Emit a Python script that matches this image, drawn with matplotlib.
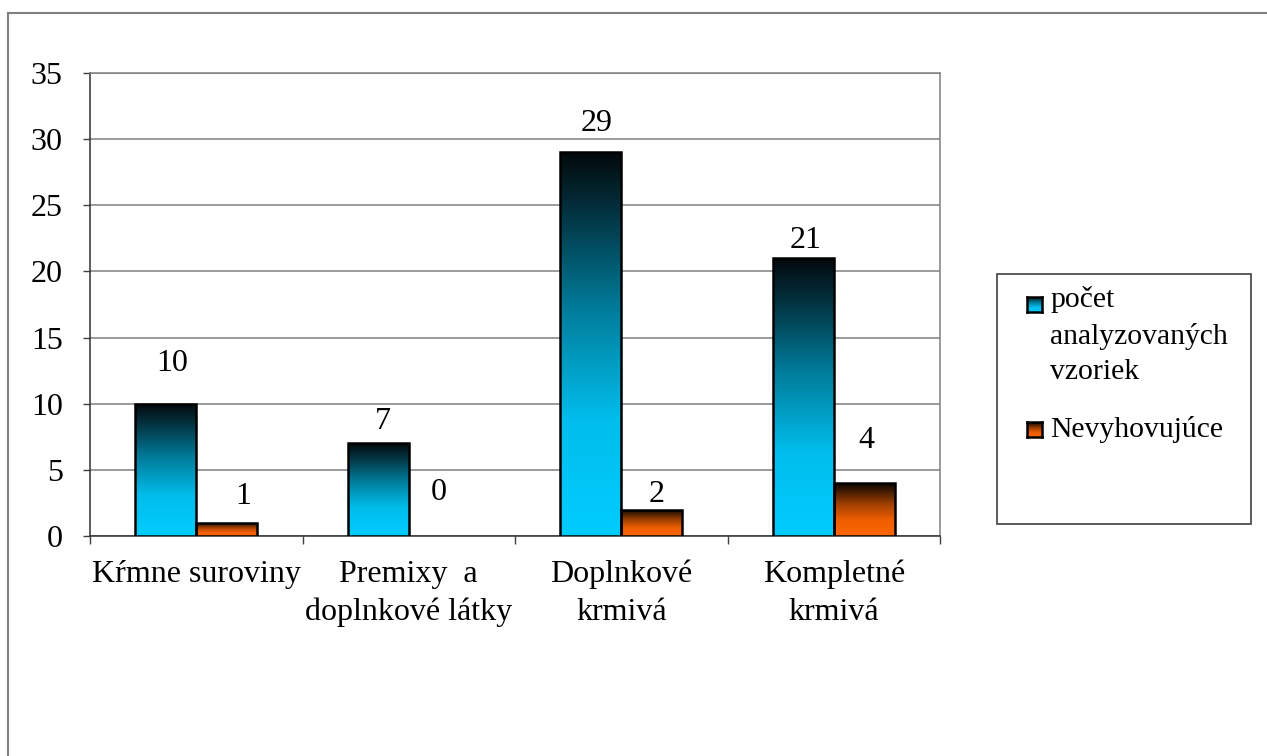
import matplotlib
matplotlib.use("Agg")
import matplotlib.pyplot as plt
import numpy as np
from matplotlib.colors import LinearSegmentedColormap
from matplotlib.lines import Line2D
from matplotlib.patches import Rectangle

categories = ["Kŕmne suroviny", "Premixy  a\ndoplnkové látky", "Doplnkové\nkrmivá", "Kompletné\nkrmivá"]
series_names = ["počet\nanalyzovaných\nvzoriek", "Nevyhovujúce"]
analyzed = [10, 7, 29, 21]
noncompliant = [1, 0, 2, 4]
yticks = [0, 5, 10, 15, 20, 25, 30, 35]

# label placement (pixels: right, up from bar top centre) as in the reference
analyzed_label_offsets = [(6, 33), (5, 14), (6, 21), (2, 10)]
noncompliant_label_offsets = [(16, 19), (0, 36), (5, 8), (2, 35)]

plt.rcParams['font.family'] = ['Liberation Serif', 'DejaVu Serif']
FS = 23
LFS = 21.3

blue_cmap = LinearSegmentedColormap.from_list(
    "blue", [(0.0, "#00CCFF"), (0.3, "#00BEEC"), (0.6, "#007A98"), (0.85, "#03313E"), (1.0, "#04090C")])
orange_cmap = LinearSegmentedColormap.from_list(
    "orange", [(0.0, "#FF6600"), (0.3, "#EE5E00"), (0.6, "#A04000"), (0.85, "#401A00"), (1.0, "#0C0500")])

fig = plt.figure(figsize=(12.67, 7.56), dpi=100)
ax = fig.add_axes([90/1267, 1-536/756, 850/1267, 463/756])

x = np.arange(len(categories))
w = 0.287
grad = np.linspace(0, 1, 256).reshape(-1, 1)

def gradient_bars(xpos, vals, cmap):
    bars = ax.bar(xpos, vals, width=w, align='edge', facecolor='none',
                  edgecolor='black', linewidth=1.8, zorder=4)
    for b in bars:
        h = b.get_height()
        if h <= 0:
            b.set_linewidth(0)
            continue
        x0 = b.get_x()
        im = ax.imshow(grad, cmap=cmap, origin='lower', aspect='auto',
                       extent=[x0, x0 + b.get_width(), 0, h], zorder=3,
                       interpolation='bilinear')
        im.set_clip_path(b)
    return bars

b1 = gradient_bars(x - w, analyzed, blue_cmap)
b2 = gradient_bars(x, noncompliant, orange_cmap)

for bars, vals, offs in ((b1, analyzed, analyzed_label_offsets),
                         (b2, noncompliant, noncompliant_label_offsets)):
    for b, v, (dx, dy) in zip(bars, vals, offs):
        ax.annotate(str(v), (b.get_x() + b.get_width()/2, v), xytext=(dx*0.72, dy*0.72),
                    textcoords='offset points', ha='center', va='baseline', fontsize=FS)

ax.set_xlim(-0.5, 3.5)
ax.set_ylim(0, 35)
ax.set_yticks(yticks)
ax.set_yticklabels([str(t) for t in yticks], fontsize=FS)
ax.set_xticks(x)
ax.set_xticklabels(categories, fontsize=FS, linespacing=1.4)
ax.set_xticks(np.arange(-0.5, 4, 1), minor=True)
ax.tick_params(axis='x', which='major', length=0, pad=17)
ax.tick_params(axis='x', which='minor', length=6, width=1, direction='out', color='#404040')
ax.tick_params(axis='y', which='major', length=5, width=1, direction='out', pad=14.5, color='#404040')
ax.yaxis.grid(True, color='#808080', linewidth=1.1, zorder=1)
ax.set_axisbelow(True)
for s in ('top', 'right'):
    ax.spines[s].set_color('#808080')
    ax.spines[s].set_linewidth(1.1)
for s in ('left', 'bottom'):
    ax.spines[s].set_color('#303030')
    ax.spines[s].set_linewidth(1.1)

# outer chart frame (only left & top visible)
fig.add_artist(Line2D([8/1267, 8/1267], [0, 1-13/756], color='#808080', lw=1.5))
fig.add_artist(Line2D([8/1267, 1], [1-13/756, 1-13/756], color='#808080', lw=1.5))

# legend box
fig.add_artist(Rectangle((997/1267, 1-524/756), 254/1267, 250/756, fill=False,
                         edgecolor='#404040', lw=1.2, transform=fig.transFigure))
swatches = [(blue_cmap, 297), (orange_cmap, 422)]
for cmap, ytop in swatches:
    sax = fig.add_axes([1027/1267, 1-(ytop+15)/756, 15/1267, 15/756])
    sax.imshow(grad, cmap=cmap, origin='lower', aspect='auto', extent=[0, 1, 0, 1])
    sax.set_xticks([]); sax.set_yticks([])
    for s in sax.spines.values():
        s.set_linewidth(1.8)
        s.set_color('black')
fig.text(1050/1267, 1-379/756, series_names[0], fontsize=LFS, va='baseline', ha='left', linespacing=1.47)
fig.text(1050/1267, 1-437/756, series_names[1], fontsize=LFS, va='baseline', ha='left')

fig.savefig("out.png", dpi=100)
